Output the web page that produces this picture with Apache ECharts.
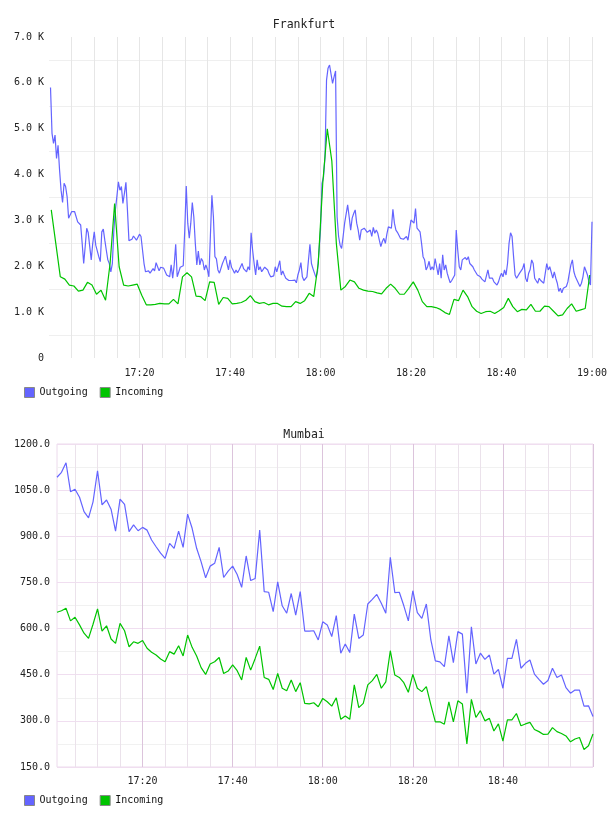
<!DOCTYPE html>
<html>
<head>
<meta charset="utf-8">
<title>Frankfurt / Mumbai</title>
<script src="https://cdn.jsdelivr.net/npm/echarts@6/dist/echarts.min.js"></script>
<style>
  html, body { margin: 0; padding: 0; background: #fff; }
  #main { width: 608px; height: 816px; }
</style>
</head>
<body>
<div id="main"></div>
<script>
// values, time in minutes after 17:00
var seriesNames = ['Outgoing', 'Incoming']

// Frankfurt outgoing, one value every 20 s starting 17:00:20
var fraOut = [
  5900, 4900, 4680, 4860, 4350, 4640, 4100, 3660, 3390, 3810,
  3740, 3520, 3050, 3010, 3190, 3150, 3190, 3150, 2970, 2950,
  2900, 2500, 2060, 2430, 2830, 2730, 2750, 2140, 2500, 2750,
  2460, 2500, 2210, 2100, 2750, 2810, 2570, 2350, 2140, 2060,
  1880, 2060, 2790, 3230, 3520, 3840, 3660, 3740, 3370, 3590,
  3830, 3230, 2560, 2560, 2590, 2660, 2630, 2570, 2610, 2700,
  2650, 2610, 2060, 1880, 1920, 1900, 1850, 1880, 1950, 1900,
  2080, 1990, 1900, 1980, 1970, 1960, 1930, 1810, 1810, 1770,
  2030, 1740, 2030, 2480, 1770, 1810, 1980, 1950, 2010, 2790,
  3750, 2940, 2610, 2940, 3390, 3080, 2500, 2030, 2330, 2030,
  2170, 2110, 1920, 2030, 1930, 1770, 2660, 3550, 3080, 2210,
  2160, 1920, 1850, 1880, 2060, 2140, 2220, 2060, 1920, 2140,
  1980, 1920, 1850, 1920, 1860, 1920, 1990, 2060, 1950, 1930,
  1880, 1990, 1920, 2730, 2350, 2060, 1810, 2140, 1920, 1990,
  1880, 1900, 1980, 1990, 1920, 1830, 1770, 1760, 1790, 1990,
  1880, 1920, 2120, 1810, 1900, 1810, 1740, 1720, 1690, 1660,
  1690, 1690, 1700, 1640, 1810, 1920, 2080, 1770, 1690, 1660,
  1770, 1810, 2480, 2060, 1950, 1850, 1760, 1880, 1920, 2790,
  3810, 3950, 4390,
  6060, 6320, 6390, 6390, 5990, 6130, 6260, 3080, 2650, 2460,
  2390, 2650, 2940, 2910, 3340, 3080, 2790, 3050, 3150, 3230,
  2940, 2790, 2570, 2790, 2750, 2830, 2860, 2740, 2750, 2790,
  2650, 2850, 2720, 2790, 2720, 2570, 2430, 2540, 2610, 2500,
  2700, 2860, 2860, 2830, 3240, 2940, 2790, 2740, 2700, 2610,
  2570, 2590, 2630, 2650, 2570, 2590, 3010, 3050, 2940, 3260,
  2830, 2790, 2750, 2500, 2210, 2140, 1920, 1990, 2110, 1920,
  1990, 1920, 2170, 2170, 1810, 2060, 1740, 2250, 1920, 2030,
  1850, 1740, 1640, 1690, 1720, 1810, 2790, 2350, 1990, 1920,
  2140, 2170, 2190, 2140, 2210, 2060, 2080, 1990, 1920,
  1880, 1810, 1800, 1770, 1720, 1690, 1660, 1700, 1920, 1740,
  1770, 1740, 1660, 1630, 1590, 1660, 1770, 1850, 1770, 1920,
  1810, 2060, 2500, 2730, 2650, 2210, 1810, 1740, 1740, 1850,
  1880, 1950, 2060, 1740, 1660, 1850, 1930, 2140, 2060, 1740,
  1770, 1630, 1740, 1690, 1660, 1630, 1590, 2060, 1920, 1990,
  2030, 1740, 1880, 1740, 1630, 1450, 1520, 1420, 1520, 1480,
  1560, 1660, 1850, 2030, 2140, 1880, 1770, 1700, 1630, 1560,
  1630, 1770, 1990, 1950, 1810, 1660, 1590, 2970
]

// Frankfurt incoming, one value every minute starting 17:00:30
var fraIn = [
  3230, 2500, 1770, 1720, 1590, 1570, 1460, 1480, 1650, 1590,
  1390, 1480, 1260, 2060, 3370, 1990, 1590, 1570, 1590, 1610,
  1370, 1160, 1160, 1170, 1190, 1180, 1180, 1280, 1180, 1770,
  1860, 1770, 1350, 1340, 1250, 1660, 1650, 1170, 1320, 1300,
  1180, 1190, 1210, 1260, 1360, 1230, 1190, 1210, 1160, 1190,
  1190, 1130, 1120, 1120, 1230, 1190, 1250, 1410, 1340, 2060,
  3810, 5000, 4300, 2500, 1480, 1560, 1700, 1660, 1520, 1480,
  1460, 1450, 1420, 1400, 1520, 1610, 1520, 1390, 1390, 1520,
  1660, 1480, 1230, 1120, 1120, 1100, 1060, 990, 950, 1280,
  1250, 1480, 1340, 1120, 1020, 970, 1010, 1020, 970, 1030,
  1100, 1300, 1120, 1010, 1060, 1050, 1170, 1020, 1020, 1130,
  1120, 1020, 920, 940, 1080, 1180, 1020, 1050, 1080, 1810
]

// Mumbai, one value every minute from 17:01 to 19:00
var mumOut = [
  1092, 1108, 1139, 1045, 1053, 1027, 980, 960, 1012, 1113,
  1002, 1018, 988, 917, 1021, 1004, 915, 937, 918, 929,
  920, 888, 866, 845, 828, 877, 861, 917, 864, 972,
  926, 861, 817, 765, 803, 812, 864, 766, 787, 803,
  776, 734, 836, 756, 763, 920, 720, 718, 655, 752,
  674, 650, 714, 644, 720, 592, 592, 593, 563, 622,
  612, 574, 642, 520, 550, 522, 647, 568, 579, 680,
  695, 711, 682, 650, 832, 717, 718, 674, 625, 723,
  652, 633, 680, 563, 495, 492, 476, 576, 489, 590,
  582, 390, 606, 485, 520, 500, 514, 452, 467, 406,
  503, 503, 565, 471, 487, 498, 452, 435, 419, 431,
  471, 441, 449, 408, 390, 400, 400, 348, 349, 314
]
var mumIn = [
  653, 658, 666, 625, 637, 612, 585, 568, 614, 664,
  592, 609, 566, 552, 617, 593, 541, 557, 552, 561,
  536, 523, 514, 501, 492, 525, 517, 544, 511, 579,
  539, 511, 473, 451, 485, 492, 506, 454, 462, 482,
  463, 433, 506, 465, 503, 543, 441, 435, 402, 454,
  406, 398, 433, 395, 424, 357, 355, 359, 346, 373,
  362, 348, 375, 305, 316, 305, 417, 343, 357, 417,
  431, 451, 406, 427, 528, 449, 441, 424, 393, 451,
  406, 395, 411, 352, 297, 297, 289, 362, 297, 365,
  355, 225, 370, 311, 333, 300, 308, 267, 290, 234,
  303, 303, 324, 284, 290, 295, 272, 265, 256, 257,
  278, 265, 259, 251, 232, 241, 246, 207, 219, 257
]

var mono = 'DejaVu Sans Mono'
var blue = '#6464ff'
var green = '#00c400'

function hhmm(m) {
  var h = 17 + Math.floor(m / 60)
  var mm = m % 60
  return h + ':' + (mm < 10 ? '0' : '') + mm
}

// bottom chart vertical lines: a light one every 5 min, darker every 20 min
var mumXColors = []
for (var i = 0; i < 20; i++) {
  var m = i + 1
  mumXColors.push(m % 20 === 0 ? '#dcc4dc' : (m % 5 === 0 ? '#ebe2eb' : 'transparent'))
}

function lineSeries(name, color, xi, data) {
  return {
    name: name,
    type: 'line',
    xAxisIndex: xi,
    yAxisIndex: xi,
    data: data,
    symbol: 'none',
    showSymbol: false,
    lineStyle: { width: 1.2, color: color },
    itemStyle: { color: color }
  }
}

var labelStyle = { color: '#222', fontSize: 10, fontFamily: mono }
var titleStyle = { color: '#222', fontSize: 11.5, fontFamily: mono, fontWeight: 'normal' }
var legendBase = {
  data: seriesNames,
  left: 24,
  padding: 0,
  icon: 'rect',
  itemWidth: 10,
  itemHeight: 10,
  itemGap: 12,
  itemStyle: { borderColor: '#888', borderWidth: 1 },
  textStyle: { color: '#111', fontSize: 10, fontFamily: mono, padding: [0, 0, 0, 0] }
}

var chart = echarts.init(document.getElementById('main'))
var option = {
  animation: false,
  backgroundColor: '#fff',
  textStyle: { fontFamily: mono },
  title: [
    { text: 'Frankfurt', left: 'center', top: 14, textStyle: titleStyle },
    { text: 'Mumbai', left: 'center', top: 424, textStyle: titleStyle }
  ],
  legend: [
    Object.assign({}, legendBase, { top: 387 }),
    Object.assign({}, legendBase, { top: 795 })
  ],
  grid: [
    { left: 49, right: 16, top: 37, height: 321, outerBoundsMode: 'none' },
    { left: 57, right: 15, top: 444, height: 323, outerBoundsMode: 'none',
      show: true, borderColor: '#ecdaec', borderWidth: 1 }
  ],
  xAxis: [
    {
      type: 'value', gridIndex: 0, min: 0, max: 120, interval: 5,
      axisLine: { show: false }, axisTick: { show: false },
      axisLabel: Object.assign({ margin: 10, formatter: function(v) {
        return v > 0 && v % 20 === 0 ? hhmm(v) : ''
      } }, labelStyle),
      splitLine: { show: true, showMinLine: false, lineStyle: { color: '#e6e6e6' } }
    },
    {
      type: 'value', gridIndex: 1, min: 1, max: 120, interval: 1,
      axisLine: { show: false }, axisTick: { show: false },
      axisLabel: Object.assign({ margin: 9, formatter: function(v) {
        return v % 20 === 0 && v < 120 ? hhmm(v) : ''
      } }, labelStyle),
      splitLine: { show: true, showMinLine: true, showMaxLine: true, lineStyle: { color: mumXColors } }
    }
  ],
  yAxis: [
    {
      type: 'value', gridIndex: 0, min: 0, max: 7000, interval: 500,
      axisLine: { show: false }, axisTick: { show: false },
      axisLabel: Object.assign({ margin: 5, formatter: function(v) {
        if (v % 1000 !== 0) return ''
        return v === 0 ? '0' : (v / 1000).toFixed(1) + ' K'
      } }, labelStyle),
      splitLine: { show: true, showMinLine: true, showMaxLine: true, lineStyle: { color: ['transparent', '#efefef'] } }
    },
    {
      type: 'value', gridIndex: 1, min: 150, max: 1200, interval: 75,
      axisLine: { show: false }, axisTick: { show: false },
      axisLabel: Object.assign({ margin: 7, formatter: function(v) {
        return (v - 150) % 150 === 0 ? v.toFixed(1) : ''
      } }, labelStyle),
      splitLine: { show: true, showMinLine: true, showMaxLine: true, lineStyle: { color: ['#f0def0', '#f1f1f1'] } }
    }
  ],
  series: [
    lineSeries('Outgoing', blue, 0, fraOut.map(function(v, i) { return [(i + 1) / 3, v] })),
    lineSeries('Incoming', green, 0, fraIn.map(function(v, i) { return [i + 0.5, v] })),
    lineSeries('Outgoing', blue, 1, mumOut.map(function(v, i) { return [i + 1, v] })),
    lineSeries('Incoming', green, 1, mumIn.map(function(v, i) { return [i + 1, v] }))
  ]
}
chart.setOption(option)
</script>
</body>
</html>
